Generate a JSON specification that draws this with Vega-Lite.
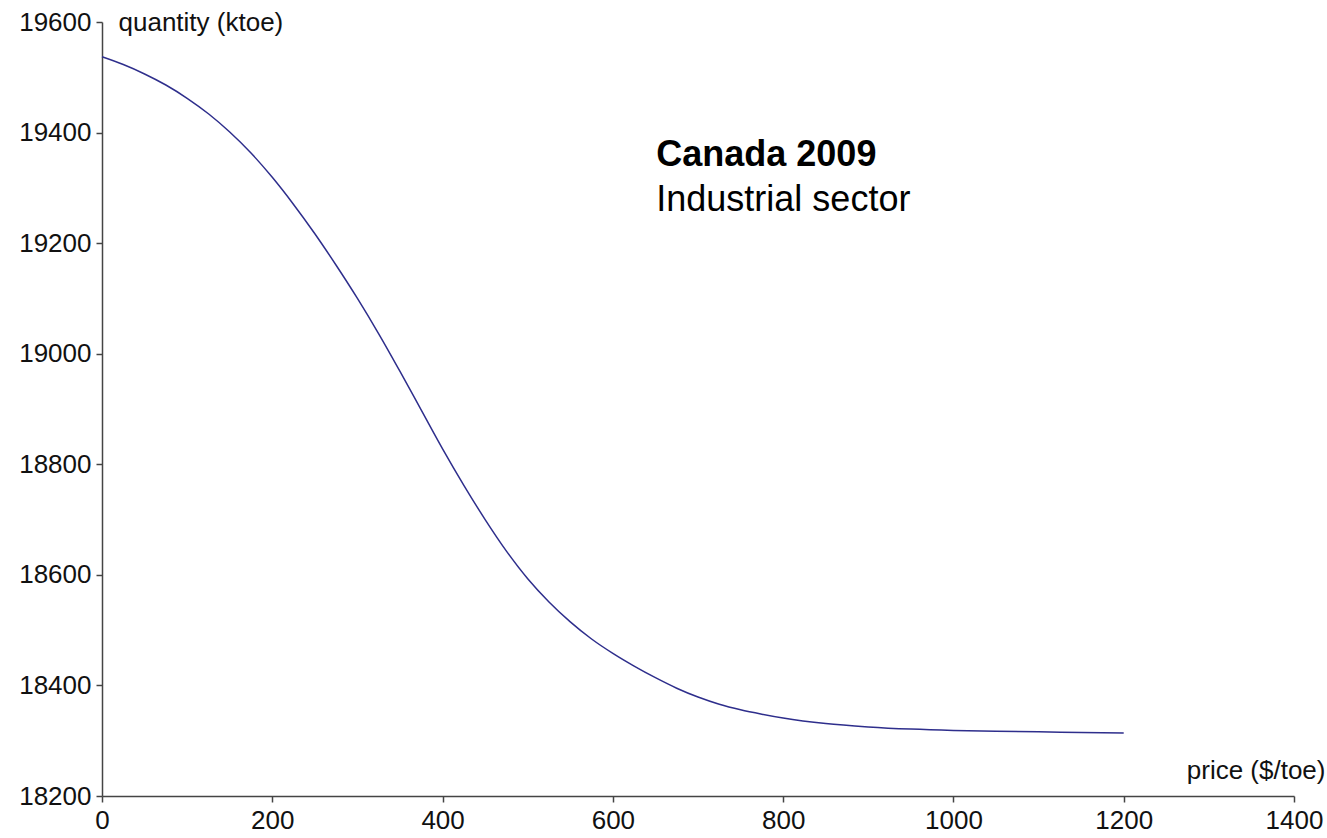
{
  "$schema": "https://vega.github.io/schema/vega-lite/v6.json",
  "width": 1192,
  "height": 774,
  "autosize": "none",
  "padding": {"left": 102, "top": 22, "right": 33, "bottom": 42},
  "background": "white",
  "config": {
    "view": {"stroke": null},
    "font": "Liberation Sans",
    "axis": {
      "grid": false,
      "domainColor": "#444444",
      "domainWidth": 1.5,
      "tickColor": "#444444",
      "tickWidth": 1.5,
      "tickSize": 6,
      "labelFont": "Liberation Sans",
      "labelFontSize": 26,
      "labelColor": "#111111",
      "labelPadding": 5,
      "titleFont": "Liberation Sans",
      "titleFontSize": 26,
      "titleFontWeight": "normal",
      "titleColor": "#111111"
    }
  },
  "datasets": {
    "curve": [
      {"price": 0, "quantity": 19537},
      {"price": 25, "quantity": 19523},
      {"price": 50, "quantity": 19506},
      {"price": 75, "quantity": 19486},
      {"price": 100, "quantity": 19462},
      {"price": 125, "quantity": 19434},
      {"price": 150, "quantity": 19401},
      {"price": 175, "quantity": 19363},
      {"price": 200, "quantity": 19319},
      {"price": 225, "quantity": 19270},
      {"price": 250, "quantity": 19217},
      {"price": 275, "quantity": 19160},
      {"price": 300, "quantity": 19100},
      {"price": 325, "quantity": 19036},
      {"price": 350, "quantity": 18968},
      {"price": 375, "quantity": 18898},
      {"price": 400, "quantity": 18828},
      {"price": 425, "quantity": 18762},
      {"price": 450, "quantity": 18700},
      {"price": 475, "quantity": 18643},
      {"price": 500, "quantity": 18593},
      {"price": 525, "quantity": 18551},
      {"price": 550, "quantity": 18515},
      {"price": 575, "quantity": 18484},
      {"price": 600, "quantity": 18458},
      {"price": 625, "quantity": 18435},
      {"price": 650, "quantity": 18414},
      {"price": 675, "quantity": 18395},
      {"price": 700, "quantity": 18379},
      {"price": 725, "quantity": 18366},
      {"price": 750, "quantity": 18356},
      {"price": 775, "quantity": 18348},
      {"price": 800, "quantity": 18341},
      {"price": 850, "quantity": 18331},
      {"price": 900, "quantity": 18325},
      {"price": 950, "quantity": 18321},
      {"price": 1000, "quantity": 18318.5},
      {"price": 1050, "quantity": 18317},
      {"price": 1100, "quantity": 18316},
      {"price": 1150, "quantity": 18315},
      {"price": 1200, "quantity": 18314}
    ],
    "notes": [
      {"price": 651, "quantity": 19359, "label": "Canada 2009", "kind": "bold"},
      {"price": 651, "quantity": 19278, "label": "Industrial sector", "kind": "normal"}
    ]
  },
  "layer": [
    {
      "data": {"name": "curve"},
      "mark": {"type": "line", "color": "#2e2e8c", "strokeWidth": 1.5, "interpolate": "monotone"},
      "encoding": {
        "x": {
          "field": "price", "type": "quantitative",
          "scale": {"domain": [0, 1400], "nice": false, "zero": false},
          "axis": {
            "values": [0, 200, 400, 600, 800, 1000, 1200, 1400],
            "format": "d",
            "title": "price ($/toe)",
            "titleAngle": 0,
            "titleAlign": "right",
            "titleBaseline": "middle",
            "titleX": 1223,
            "titleY": -26,
            "labelFlush": false
          }
        },
        "y": {
          "field": "quantity", "type": "quantitative",
          "scale": {"domain": [18200, 19600], "nice": false, "zero": false},
          "axis": {
            "values": [18200, 18400, 18600, 18800, 19000, 19200, 19400, 19600],
            "format": "d",
            "title": "quantity (ktoe)",
            "titleAngle": 0,
            "titleAlign": "left",
            "titleBaseline": "middle",
            "titleX": 16,
            "titleY": 0,
            "labelFlush": false
          }
        }
      }
    },
    {
      "data": {"name": "notes"},
      "transform": [{"filter": "datum.kind === 'bold'"}],
      "mark": {"type": "text", "align": "left", "baseline": "middle", "fontSize": 36, "fontWeight": "bold", "font": "Liberation Sans", "color": "#000000"},
      "encoding": {
        "x": {"field": "price", "type": "quantitative"},
        "y": {"field": "quantity", "type": "quantitative"},
        "text": {"field": "label"}
      }
    },
    {
      "data": {"name": "notes"},
      "transform": [{"filter": "datum.kind === 'normal'"}],
      "mark": {"type": "text", "align": "left", "baseline": "middle", "fontSize": 36, "font": "Liberation Sans", "color": "#000000"},
      "encoding": {
        "x": {"field": "price", "type": "quantitative"},
        "y": {"field": "quantity", "type": "quantitative"},
        "text": {"field": "label"}
      }
    }
  ]
}
